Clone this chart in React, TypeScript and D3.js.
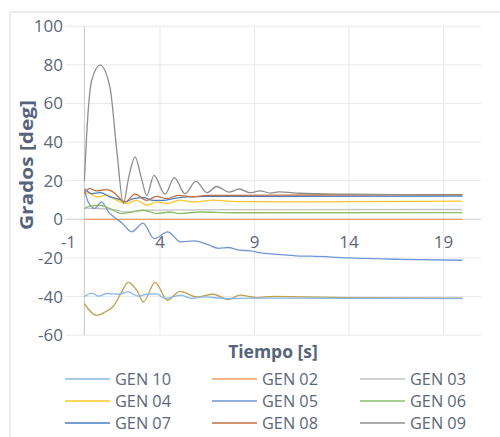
import React from "react";
import * as d3 from "d3";

type Pt = [number, number];

const xTicks = [-1, 4, 9, 14, 19];
const yTicks = [100, 80, 60, 40, 20, 0, -20, -40, -60];

const gen10: Pt[] = [[0,-40],[0.4,-38.2],[0.75,-39.8],[1.2,-38.4],[1.8,-38.8],[2.3,-37.6],[2.85,-39.8],[3.3,-38.8],[3.8,-38.6],[4.3,-41],[5.1,-39.3],[5.7,-41],[6.3,-40.2],[7.5,-41],[9,-40.8],[20,-41]];
const gen02: Pt[] = [[0,0],[20,0]];
const gen03: Pt[] = [[0,5.8],[0.8,5.6],[1.7,4.7],[2.2,3.8],[3.1,4.7],[5,4.9],[10,5],[20,5.1]];
const gen04: Pt[] = [[0,12.5],[0.2,13.7],[0.65,11.6],[1.18,12.5],[1.7,9.9],[2.24,8.2],[2.76,9.9],[3.3,7.3],[3.82,9],[4.35,8.2],[5.06,9.9],[5.76,9],[6.8,9.9],[8,9.2],[12,9],[20,9.4]];
const gen05: Pt[] = [[0,15],[0.2,9],[0.55,5.6],[0.9,9],[1.3,3.5],[1.6,1],[2.0,-2],[2.5,-6.5],[3.1,-2],[3.7,-10],[4.4,-6.5],[5.1,-11.7],[5.8,-11.2],[6.5,-13],[7.1,-15],[7.6,-14.6],[8.2,-16],[8.8,-16.3],[9.3,-17.4],[10.2,-18.1],[11.2,-18.9],[12,-19.1],[14,-20],[16.7,-20.7],[20,-21.2]];
const gen06: Pt[] = [[0,5.6],[0.3,6.8],[0.83,7.3],[1.35,5.6],[1.97,3],[2.5,3.8],[3.12,4.7],[3.82,3],[4.53,3.8],[5.06,3],[6.1,3.8],[8,3.4],[20,3.5]];
const gen07: Pt[] = [[0,15.9],[0.4,13.3],[0.85,13.8],[1.35,11.6],[1.88,10.2],[2.15,9],[2.59,10.7],[3.12,11.2],[3.65,9.8],[4.2,9.8],[4.7,10.7],[5.4,11.6],[6.47,11.9],[10,11.9],[20,12]];
const gen08: Pt[] = [[0,13.3],[0.25,15.9],[0.65,14.7],[1.18,15.4],[1.53,14.1],[2.15,9],[2.68,13],[3.3,9.8],[3.82,11.9],[4.35,10.7],[4.97,12.4],[5.76,11.6],[6.47,12.4],[8,12.4],[12,12.6],[20,12.8]];
const gen09: Pt[] = [[0,20],[0.12,44],[0.39,72],[0.83,79.8],[1.35,68.5],[1.71,36],[2.06,8.3],[2.35,22],[2.68,32.3],[3.0,22],[3.3,12.4],[3.68,22.8],[4.26,13],[4.76,21.6],[5.32,13.3],[5.9,19.6],[6.5,13.8],[7.0,17],[7.65,14.1],[8.2,15.7],[8.76,13.8],[9.3,14.7],[9.85,13.6],[10.3,14.2],[11.4,13.5],[14,13],[17,12.7],[20,12.5]];
const gen01: Pt[] = [[0,-43.6],[0.65,-49.7],[1.09,-48],[1.53,-45],[1.88,-39.3],[2.32,-32.6],[2.77,-36.7],[3.12,-42.8],[3.74,-32.6],[4.39,-41.9],[5.06,-37.3],[5.94,-40.2],[6.82,-38.8],[7.61,-41.5],[8.23,-39.3],[9.12,-40.5],[10,-39.9],[11.6,-40.2],[14,-40.5],[20,-40.8]];

const series = [
  { name: "GEN 01", data: gen01, color: "#bfa04e" },
  { name: "GEN 10", data: gen10, color: "#8ab8e4" },
  { name: "GEN 02", data: gen02, color: "#f29a62" },
  { name: "GEN 03", data: gen03, color: "#c2c2c2" },
  { name: "GEN 04", data: gen04, color: "#ffc62a" },
  { name: "GEN 05", data: gen05, color: "#6f95d8" },
  { name: "GEN 06", data: gen06, color: "#8cbf68" },
  { name: "GEN 07", data: gen07, color: "#4680c2" },
  { name: "GEN 08", data: gen08, color: "#c46f40" },
  { name: "GEN 09", data: gen09, color: "#8e8e8e" },
];

const legendOrder = ["GEN 10", "GEN 02", "GEN 03", "GEN 04", "GEN 05", "GEN 06", "GEN 07", "GEN 08", "GEN 09"];

export default function App() {
  const x = d3.scaleLinear().domain([-1, 21]).range([65.5, 481.3]);
  const y = d3.scaleLinear().domain([-60, 100]).range([335.2, 26.2]);
  const line = d3
    .line<Pt>()
    .x((d) => x(d[0]))
    .y((d) => y(d[1]))
    .curve(d3.curveMonotoneX);

  const textColor = "#5d6778";
  const font = "'Open Sans', sans-serif";
  const legendCols = [65, 212, 360];
  const legendRows = [379, 401, 423];

  return (
    <div style={{ position: "fixed", left: 0, top: 0 }}>
      <svg width={500} height={437} style={{ display: "block", background: "#fff" }}>
        <rect x={10} y={12} width={500} height={440} fill="#fff" stroke="#e3e6ea" strokeWidth={1.5} />
        {yTicks.map((t) => (
          <line key={"gy" + t} x1={x(-1)} x2={x(21)} y1={y(t)} y2={y(t)} stroke={t === 0 ? "#c9ccd2" : "#e6e9ed"} strokeWidth={1} />
        ))}
        {xTicks.slice(1).map((t) => (
          <line key={"gx" + t} x1={x(t)} x2={x(t)} y1={y(100)} y2={y(-60)} stroke="#e6e9ed" strokeWidth={1} />
        ))}
        <line x1={x(0)} x2={x(0)} y1={y(100)} y2={y(-60)} stroke="#c3c8cf" strokeWidth={1} />
        {series.map((s) => (
          <path key={s.name} d={line(s.data) || ""} fill="none" stroke={s.color} strokeWidth={1.3} />
        ))}
        {yTicks.map((t) => (
          <text key={"ly" + t} x={63} y={y(t)} dy="0.35em" textAnchor="end" fontFamily={font} fontSize={17} fill={textColor}>
            {t < 0 ? "-" + Math.abs(t) : String(t)}
          </text>
        ))}
        {xTicks.map((t) => (
          <text key={"lx" + t} x={x(t) + (t < 0 ? 3 : 0)} y={y(0) + 29} textAnchor="middle" fontFamily={font} fontSize={17} fill={textColor}>
            {t < 0 ? "-" + Math.abs(t) : String(t)}
          </text>
        ))}
        <text transform={`translate(33,${165}) rotate(-90)`} textAnchor="middle" fontFamily={font} fontWeight="bold" fontSize={18.5} textLength={130} lengthAdjust="spacingAndGlyphs" fill="#56637a">
          Grados [deg]
        </text>
        <text x={273} y={358} textAnchor="middle" fontFamily={font} fontWeight="bold" fontSize={17.5} fill="#56637a">
          Tiempo [s]
        </text>
        {legendOrder.map((name, i) => {
          const s = series.find((d) => d.name === name)!;
          const cx = legendCols[i % 3];
          const cy = legendRows[Math.floor(i / 3)];
          return (
            <g key={"lg" + name}>
              <line x1={cx} x2={cx + 45} y1={cy} y2={cy} stroke={s.color} strokeWidth={1.4} />
              <text x={cx + 50} y={cy} dy="0.35em" fontFamily={font} fontSize={16.3} fill={textColor}>
                {name}
              </text>
            </g>
          );
        })}
      </svg>
    </div>
  );
}
